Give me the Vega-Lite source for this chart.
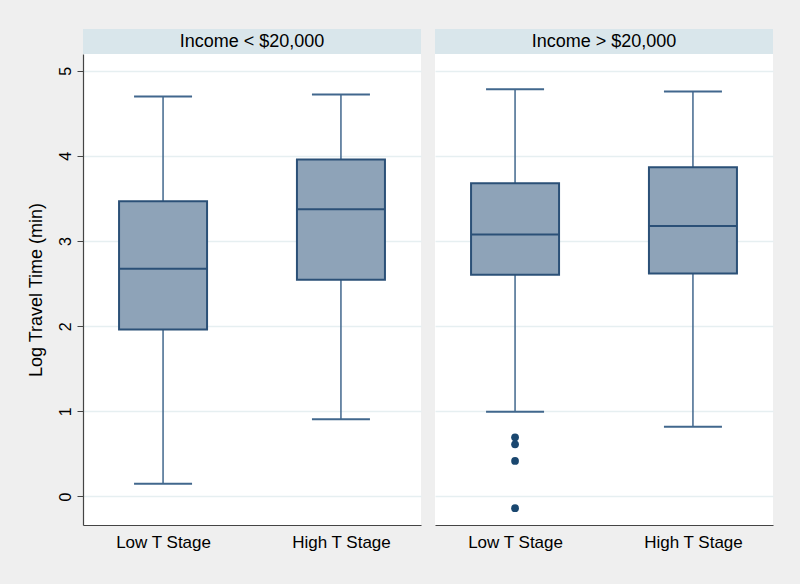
{
  "$schema": "https://vega.github.io/schema/vega-lite/v6.json",
  "background": "#efefef",
  "padding": {"left": 27, "top": 29, "right": 28, "bottom": 36},
  "datasets": {
    "boxes": [
      {"panel": "Income < $20,000", "stage": "Low T Stage", "lower": 0.15, "q1": 1.962, "median": 2.674, "q3": 3.468, "upper": 4.697},
      {"panel": "Income < $20,000", "stage": "High T Stage", "lower": 0.906, "q1": 2.545, "median": 3.374, "q3": 3.958, "upper": 4.721},
      {"panel": "Income > $20,000", "stage": "Low T Stage", "lower": 0.995, "q1": 2.603, "median": 3.077, "q3": 3.68, "upper": 4.783},
      {"panel": "Income > $20,000", "stage": "High T Stage", "lower": 0.819, "q1": 2.62, "median": 3.178, "q3": 3.867, "upper": 4.756}
    ],
    "outliers": [
      {"panel": "Income > $20,000", "stage": "Low T Stage", "value": 0.695},
      {"panel": "Income > $20,000", "stage": "Low T Stage", "value": 0.613},
      {"panel": "Income > $20,000", "stage": "Low T Stage", "value": 0.417},
      {"panel": "Income > $20,000", "stage": "Low T Stage", "value": -0.138}
    ]
  },
  "spacing": 14,
  "hconcat": [
    {
      "spacing": 0,
      "vconcat": [
        {
          "width": 338, "height": 25,
          "view": {"fill": "#d9e6eb", "stroke": null},
          "data": {"values": [{"panel": "Income < $20,000"}]},
          "mark": {"type": "text", "fontSize": 18, "color": "#000000"},
          "encoding": {"text": {"field": "panel", "type": "nominal"}}
        },
        {
          "width": 338, "height": 471,
          "view": {"fill": "#ffffff", "stroke": null},
          "data": {"name": "boxes"},
          "transform": [{"filter": "datum.panel === 'Income < $20,000'"}],
          "encoding": {
            "x": {"field": "stage", "type": "nominal", "sort": ["Low T Stage", "High T Stage"], "scale": {"type": "point", "padding": 0.45},
                  "axis": {"title": null, "ticks": false, "labelAngle": 0, "labelFontSize": 17, "labelPadding": 9, "domainColor": "#444444", "domainWidth": 1.2, "labelColor": "#000000", "grid": false}}
          },
          "layer": [
            {"mark": {"type": "rule", "color": "#41678d", "strokeWidth": 1.5},
             "encoding": {"y": {"field": "lower", "type": "quantitative", "scale": {"domain": [-0.335, 5.197], "nice": false, "zero": false},
                                "axis": {"title": "Log Travel Time (min)", "values": [0, 1, 2, 3, 4, 5], "format": "d", "labelAngle": -90, "labelAlign": "center", "labelBaseline": "bottom", "labelFontSize": 16, "labelPadding": 4, "labelColor": "#000000", "tickSize": 6, "tickColor": "#444444", "domainColor": "#444444", "domainWidth": 1.2, "grid": true, "gridColor": "#e6eff1", "gridWidth": 1.5, "titleFontSize": 18, "titleFontWeight": "normal", "titleColor": "#000000", "titlePadding": 12}},
                          "y2": {"field": "upper"}}},
            {"mark": {"type": "tick", "color": "#41678d", "size": 58, "thickness": 2, "opacity": 1},
             "encoding": {"y": {"field": "lower", "type": "quantitative", "title": "Log Travel Time (min)"}}},
            {"mark": {"type": "tick", "color": "#41678d", "size": 58, "thickness": 2, "opacity": 1},
             "encoding": {"y": {"field": "upper", "type": "quantitative", "title": "Log Travel Time (min)"}}},
            {"mark": {"type": "bar", "size": 88, "fill": "#8ea3b8", "stroke": "#2b5077", "strokeWidth": 2},
             "encoding": {"y": {"field": "q1", "type": "quantitative", "title": "Log Travel Time (min)"}, "y2": {"field": "q3"}}},
            {"mark": {"type": "tick", "color": "#2b5077", "size": 88, "thickness": 2, "opacity": 1},
             "encoding": {"y": {"field": "median", "type": "quantitative", "title": "Log Travel Time (min)"}}},
            {"data": {"name": "outliers"},
             "transform": [{"filter": "datum.panel === 'Income < $20,000'"}],
             "mark": {"type": "point", "filled": true, "size": 60, "color": "#1a476f", "opacity": 1},
             "encoding": {"y": {"field": "value", "type": "quantitative", "title": "Log Travel Time (min)"}}}
          ]
        }
      ]
    },
    {
      "spacing": 0,
      "vconcat": [
        {
          "width": 338, "height": 25,
          "view": {"fill": "#d9e6eb", "stroke": null},
          "data": {"values": [{"panel": "Income > $20,000"}]},
          "mark": {"type": "text", "fontSize": 18, "color": "#000000"},
          "encoding": {"text": {"field": "panel", "type": "nominal"}}
        },
        {
          "width": 338, "height": 471,
          "view": {"fill": "#ffffff", "stroke": null},
          "data": {"name": "boxes"},
          "transform": [{"filter": "datum.panel === 'Income > $20,000'"}],
          "encoding": {
            "x": {"field": "stage", "type": "nominal", "sort": ["Low T Stage", "High T Stage"], "scale": {"type": "point", "padding": 0.45},
                  "axis": {"title": null, "ticks": false, "labelAngle": 0, "labelFontSize": 17, "labelPadding": 9, "domainColor": "#444444", "domainWidth": 1.2, "labelColor": "#000000", "grid": false}}
          },
          "layer": [
            {"mark": {"type": "rule", "color": "#41678d", "strokeWidth": 1.5},
             "encoding": {"y": {"field": "lower", "type": "quantitative", "scale": {"domain": [-0.335, 5.197], "nice": false, "zero": false},
                                "axis": {"title": null, "values": [0, 1, 2, 3, 4, 5], "labels": false, "ticks": false, "domain": false, "grid": true, "gridColor": "#e6eff1", "gridWidth": 1.5}},
                          "y2": {"field": "upper"}}},
            {"mark": {"type": "tick", "color": "#41678d", "size": 58, "thickness": 2, "opacity": 1},
             "encoding": {"y": {"field": "lower", "type": "quantitative", "title": null}}},
            {"mark": {"type": "tick", "color": "#41678d", "size": 58, "thickness": 2, "opacity": 1},
             "encoding": {"y": {"field": "upper", "type": "quantitative", "title": null}}},
            {"mark": {"type": "bar", "size": 88, "fill": "#8ea3b8", "stroke": "#2b5077", "strokeWidth": 2},
             "encoding": {"y": {"field": "q1", "type": "quantitative", "title": null}, "y2": {"field": "q3"}}},
            {"mark": {"type": "tick", "color": "#2b5077", "size": 88, "thickness": 2, "opacity": 1},
             "encoding": {"y": {"field": "median", "type": "quantitative", "title": null}}},
            {"data": {"name": "outliers"},
             "transform": [{"filter": "datum.panel === 'Income > $20,000'"}],
             "mark": {"type": "point", "filled": true, "size": 60, "color": "#1a476f", "opacity": 1},
             "encoding": {"y": {"field": "value", "type": "quantitative", "title": null}}}
          ]
        }
      ]
    }
  ],
  "config": {
    "font": "Liberation Sans",
    "view": {"stroke": null},
    "axis": {"labelFont": "Liberation Sans", "titleFont": "Liberation Sans"}
  }
}
